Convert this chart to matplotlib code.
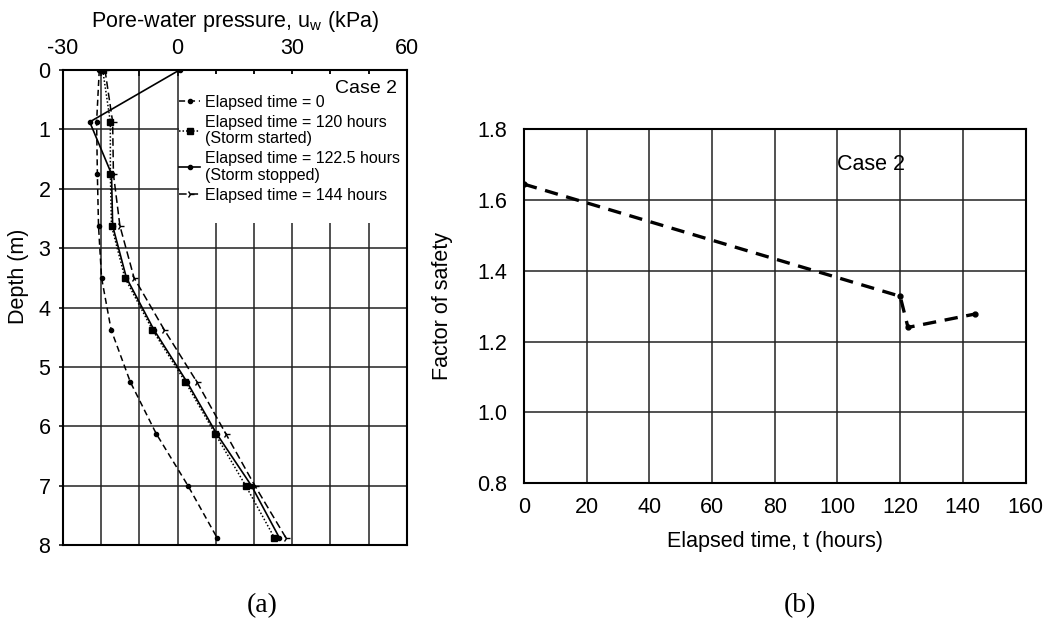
import numpy as np
import matplotlib
matplotlib.use("Agg")
import matplotlib.pyplot as plt
from matplotlib.patches import Rectangle

plt.rcParams["font.family"] = ["Liberation Sans", "DejaVu Sans"]
plt.rcParams["mathtext.fontset"] = "custom"
plt.rcParams["mathtext.rm"] = "Liberation Sans"
plt.rcParams["axes.unicode_minus"] = False

# (a) pore-water pressure profiles, Case 2
depth = [0, 0.875, 1.75, 2.625, 3.5, 4.375, 5.25, 6.125, 7.0, 7.875]
uw_t0 = [-20.5, -21.2, -21.0, -20.7, -19.9, -17.4, -12.4, -5.6, 2.7, 10.3]
uw_t120 = [-19.6, -17.6, -17.6, -17.3, -13.8, -6.6, 2.0, 9.8, 17.8, 25.3]
uw_t1225 = [0.5, -23.0, -17.3, -17.0, -13.4, -6.2, 2.4, 10.2, 19.3, 26.6]
uw_t144 = [-19.0, -17.0, -16.8, -15.1, -11.4, -3.5, 5.0, 12.6, 20.2, 28.3]

labels_a = ["Elapsed time = 0",
            "Elapsed time = 120 hours\n(Storm started)",
            "Elapsed time = 122.5 hours\n(Storm stopped)",
            "Elapsed time = 144 hours"]

# (b) factor of safety against time
time_h = [0, 120, 122.5, 144]
fos = [1.645, 1.328, 1.24, 1.278]

fig = plt.figure(figsize=(10.6, 6.3), dpi=100)

# ---------- panel (a)
ax1 = fig.add_axes([0.0594, 0.1349, 0.3245, 0.754])
ax1.plot(uw_t0, depth, color="k", lw=1.1, dashes=(4, 2.5),
         marker="o", ms=3, label=labels_a[0])
ax1.plot(uw_t120, depth, color="k", lw=1.1, dashes=(1, 1.3),
         marker="s", ms=4, label=labels_a[1])
ax1.plot(uw_t1225, depth, color="k", lw=1.2, ls="-",
         marker="o", ms=3, label=labels_a[2])
ax1.plot(uw_t144, depth, color="k", lw=1.1, dashes=(5, 2.5),
         marker="4", ms=6, label=labels_a[3])

ax1.set_xlim(-30, 60)
ax1.set_ylim(8, 0)
ax1.xaxis.tick_top()
ax1.set_xticks([-30, 0, 30, 60])
ax1.set_xticks(np.arange(-30, 61, 10), minor=True)
ax1.set_yticks(range(0, 9))
ax1.grid(True, which="both", color="#222222", lw=1.1)
ax1.tick_params(axis="x", which="both", direction="in", length=4, pad=8,
                labelsize=15.5, width=1.1)
ax1.tick_params(axis="y", direction="out", length=3, pad=6,
                labelsize=15.5, width=1.1)
for s in ax1.spines.values():
    s.set_linewidth(1.5)

# blank area behind the legend, as in the original figure
ax1.add_patch(Rectangle((0.35, 0.06), 59.5, 2.52, facecolor="white",
                        edgecolor="none", zorder=1.6))

leg = ax1.legend(loc="upper left", bbox_to_anchor=(0.338, 0.948),
                 frameon=False, fontsize=11.5, handlelength=1.3,
                 handletextpad=0.3, labelspacing=0.33, borderpad=0,
                 borderaxespad=0)
for t in leg.get_texts():
    t.set_linespacing(1.1)

ax1.text(0.97, 0.978, "Case 2", transform=ax1.transAxes, ha="right",
         va="top", fontsize=14)
ax1.set_ylabel("Depth (m)", fontsize=15.5)
ax1.yaxis.set_label_coords(-0.10, 0.565)
fig.text(235 / 1060, 1 - 21 / 630, r"Pore-water pressure, u$_{\mathregular{w}}$ (kPa)",
         ha="center", va="center", fontsize=15.5)

# ---------- panel (b)
ax2 = fig.add_axes([0.4943, 0.2333, 0.4732, 0.5614])
ax2.plot(time_h, fos, color="k", lw=2.4, dashes=(4, 2.6),
         marker="o", ms=3.5)
ax2.set_xlim(0, 160)
ax2.set_ylim(0.8, 1.8)
ax2.set_xticks(range(0, 161, 20))
ax2.set_yticks([0.8, 1.0, 1.2, 1.4, 1.6, 1.8])
ax2.set_yticklabels(["0.8", "1.0", "1.2", "1.4", "1.6", "1.8"])
ax2.grid(True, color="#222222", lw=1.1)
ax2.tick_params(axis="x", length=0, pad=10, labelsize=15.5)
ax2.tick_params(axis="y", length=0, pad=12, labelsize=15.5)
for s in ax2.spines.values():
    s.set_linewidth(1.5)
ax2.text(110.7, 1.70, "Case 2", ha="center", va="center", fontsize=15.5)
ax2.set_xlabel("Elapsed time, t (hours)", fontsize=15.5)
ax2.xaxis.set_label_coords(0.5, -0.135)
ax2.set_ylabel("Factor of safety", fontsize=15.5)
ax2.yaxis.set_label_coords(-0.142, 0.5)

# panel letters
fig.text(262 / 1060, 1 - 606 / 630, "(a)", family="Liberation Serif",
         fontsize=20, ha="center", va="center")
fig.text(800 / 1060, 1 - 606 / 630, "(b)", family="Liberation Serif",
         fontsize=20, ha="center", va="center")

fig.savefig("out.png", dpi=100)
